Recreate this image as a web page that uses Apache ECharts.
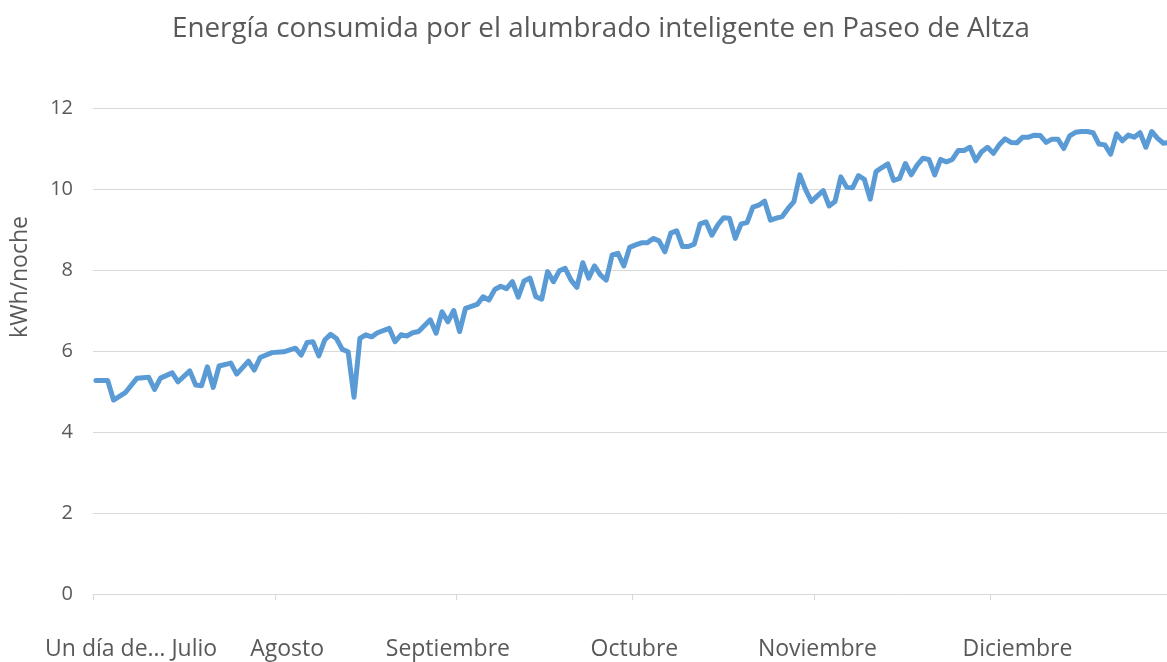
<!DOCTYPE html>
<html>
<head>
<meta charset="utf-8">
<script src="https://cdn.jsdelivr.net/npm/echarts@6/dist/echarts.min.js"></script>
<style>
  html, body { margin: 0; padding: 0; background: #fff; }
  #chart { width: 1167px; height: 662px; }
</style>
</head>
<body>
<div id="chart"></div>
<script>
// día (0 = 1 de julio) y consumo en kWh/noche
const days = [
  0, 2, 3, 5, 7, 9, 10, 11, 13, 14, 16, 17, 18, 19, 20, 21, 23, 24, 26, 27, 28, 30, 32,
  34, 35, 36, 37, 38, 39, 40, 41, 42, 43, 44, 45, 46, 47, 48, 50, 51, 52, 53, 54, 55,
  57, 58, 59, 60, 61, 62, 63, 65, 66, 67, 68, 69, 70, 71, 72, 73, 74, 75, 76, 77, 78,
  79, 80, 81, 82, 83, 84, 85, 86, 87, 88, 89, 90, 91, 92, 93, 94, 95, 96, 97, 98, 99,
  100, 101, 102, 103, 104, 105, 106, 107, 108, 109, 110, 111, 112, 113, 114, 115, 116,
  117, 118, 119, 120, 121, 122, 123, 124, 125, 126, 127, 128, 129, 130, 131, 132, 133,
  134, 135, 136, 137, 138, 139, 140, 141, 142, 143, 144, 145, 146, 147, 148, 149, 150,
  151, 152, 153, 154, 155, 156, 157, 158, 159, 160, 161, 162, 163, 164, 165, 166, 167,
  168, 169, 170, 171, 172, 173, 174, 175, 176, 177, 178, 179, 180, 181, 182, 183
];
const energy = [
  5.27, 5.27, 4.79, 4.97, 5.33, 5.35, 5.05, 5.33, 5.46, 5.24, 5.51, 5.16, 5.14, 5.61, 5.10, 5.63, 5.70, 5.43, 5.75, 5.53, 5.84, 5.96, 5.98,
  6.07, 5.90, 6.21, 6.23, 5.88, 6.27, 6.41, 6.31, 6.04, 5.98, 4.86, 6.31, 6.40, 6.35, 6.45, 6.56, 6.23, 6.40, 6.37, 6.45, 6.48,
  6.77, 6.44, 6.97, 6.72, 7.00, 6.48, 7.05, 7.15, 7.34, 7.26, 7.52, 7.60, 7.54, 7.71, 7.33, 7.73, 7.80, 7.34, 7.28, 7.96, 7.71,
  7.98, 8.04, 7.75, 7.57, 8.18, 7.80, 8.10, 7.88, 7.75, 8.37, 8.41, 8.10, 8.56, 8.62, 8.67, 8.67, 8.78, 8.72, 8.45, 8.91, 8.97,
  8.58, 8.58, 8.64, 9.14, 9.19, 8.86, 9.11, 9.29, 9.28, 8.78, 9.14, 9.17, 9.55, 9.60, 9.70, 9.23, 9.28,
  9.32, 9.52, 9.69, 10.35, 9.98, 9.69, 9.83, 9.96, 9.58, 9.69, 10.30, 10.04, 10.03, 10.33, 10.24, 9.75, 10.43,
  10.53, 10.62, 10.21, 10.26, 10.63, 10.35, 10.59, 10.76, 10.73, 10.35, 10.73, 10.67, 10.73, 10.95, 10.95, 11.03, 10.70,
  10.92, 11.03, 10.88, 11.09, 11.24, 11.15, 11.14, 11.28, 11.28, 11.33, 11.32, 11.15, 11.23, 11.23, 11.00, 11.31, 11.40,
  11.42, 11.42, 11.39, 11.11, 11.09, 10.86, 11.36, 11.19, 11.33, 11.28, 11.39, 11.03, 11.42, 11.25, 11.13, 11.15
];

// inicio de cada mes (marcas del eje) y posiciones de las etiquetas
const monthTicks = [-0.5, 30.5, 61.5, 91.5, 122.5, 152.5];
const labelPos = [6.0, 32.6, 60.0, 91.8, 123.0, 157.1];
const labelNames = ["Un día de… Julio", "Agosto", "Septiembre", "Octubre", "Noviembre", "Diciembre"];
const yTicks = [0, 2, 4, 6, 8, 10, 12];

const chart = echarts.init(document.getElementById("chart"));
const font = "'Open Sans', 'Noto Sans', sans-serif";
const textColor = "#595959";
const gridColor = "#D9D9D9";

const option = {
  animation: false,
  backgroundColor: "#fff",
  title: {
    text: "Energía consumida por el alumbrado inteligente en Paseo de Altza",
    left: 167,
    top: 10,
    textStyle: { fontFamily: font, fontSize: 27.8, fontWeight: "normal", color: textColor }
  },
  grid: { left: 93, right: 0, top: 108, bottom: 68 },
  xAxis: {
    type: "value",
    min: -0.5,
    max: 182.6,
    splitLine: { show: false },
    axisLine: { show: true, lineStyle: { color: gridColor, width: 1 } },
    axisTick: {
      show: true,
      customValues: monthTicks,
      length: 6,
      lineStyle: { color: gridColor }
    },
    axisLabel: {
      customValues: labelPos,
      margin: 44,
      fontFamily: font,
      fontSize: 23,
      color: textColor,
      formatter: function (v) {
        const i = labelPos.indexOf(v);
        return i >= 0 ? labelNames[i] : "";
      }
    }
  },
  yAxis: {
    type: "value",
    min: yTicks[0],
    max: yTicks[yTicks.length - 1],
    interval: 2,
    name: "kWh/noche",
    nameLocation: "middle",
    nameGap: 61,
    nameTextStyle: { fontFamily: font, fontSize: 23, color: textColor, padding: [0, 0, 0, 148] },
    axisLine: { show: false },
    axisTick: { show: false },
    splitLine: { lineStyle: { color: gridColor, width: 1 } },
    axisLabel: { margin: 20, fontFamily: font, fontSize: 20, color: textColor }
  },
  series: [
    {
      type: "line",
      data: days.map((d, i) => [d, energy[i]]),
      symbol: "none",
      clip: true,
      lineStyle: { color: "#5B9BD5", width: 5, cap: "round", join: "round" }
    }
  ]
};

chart.setOption(option);
</script>
</body>
</html>
